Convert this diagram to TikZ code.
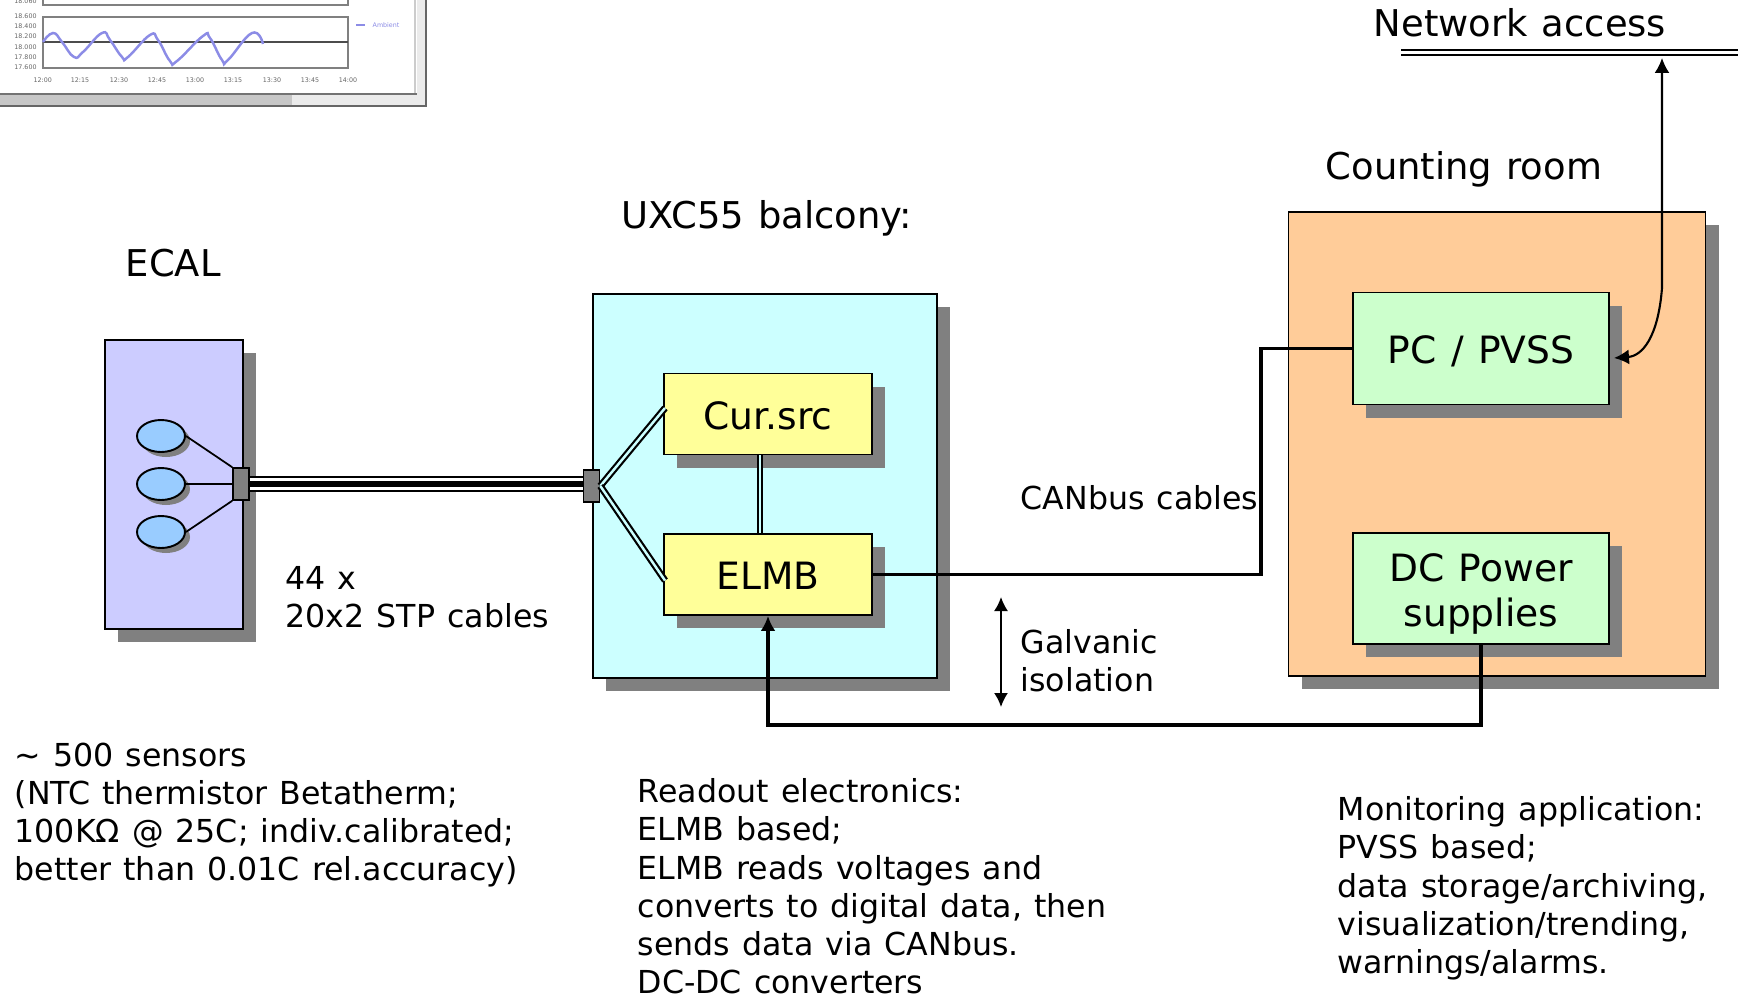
\documentclass[tikz,border=0pt]{standalone}
\usepackage{fontspec}
\setmainfont[WordSpace=1.2]{DejaVu Sans}
\usetikzlibrary{calc, shapes.geometric, shadows, arrows.meta}

\definecolor{ecalblue}{RGB}{204,204,255}
\definecolor{sensorblue}{RGB}{153,204,255}
\definecolor{balconycyan}{RGB}{204,255,255}
\definecolor{roomorange}{RGB}{255,204,153}
\definecolor{boxyellow}{RGB}{255,255,153}
\definecolor{boxgreen}{RGB}{204,255,204}
\definecolor{shadowgray}{RGB}{128,128,128}
\definecolor{tracepurple}{RGB}{140,140,230}

\begin{document}
\begin{tikzpicture}

    \tikzstyle{block}=[rectangle, draw=black, line width=0.55pt, inner sep=0pt, align=center, font=\fontsize{10.7}{13}\selectfont, drop shadow={shadow xshift=0.13cm, shadow yshift=-0.13cm, fill=shadowgray, opacity=1}];
    \tikzstyle{oneline}=[text height=8.8pt, text depth=0pt];
    \tikzstyle{sensor}=[ellipse, draw=black, line width=0.55pt, fill=sensorblue, minimum width=0.48cm, minimum height=0.32cm, inner sep=0pt, drop shadow={shadow xshift=0.05cm, shadow yshift=-0.05cm, fill=shadowgray, opacity=1}];
    \tikzstyle{joint}=[rectangle, draw=black, line width=0.45pt, fill=shadowgray, minimum width=0.16cm, minimum height=0.32cm, inner sep=0pt];
    \tikzstyle{heading}=[anchor=base west, inner sep=0pt, font=\fontsize{10.5}{13}\selectfont];
    \tikzstyle{remark}=[anchor=north west, inner sep=0pt, align=left, font=\fontsize{9}{10.85}\selectfont];
    \tikzstyle{bus}=[line width=1pt];
    \tikzstyle{pair}=[line width=0.62pt, double=balconycyan, double distance=0.7pt];
    \tikzstyle{tick}=[font=\fontsize{1.8}{2}\selectfont, text=black!60, inner sep=0pt];

    \useasboundingbox (0, 0) rectangle (17.38, 9.98);

    % monitoring window, cut by the page
    \fill[white] (0, 8.92) rectangle (4.26, 9.98);
    \fill[black!22] (0, 8.92) rectangle (2.92, 9.04);
    \fill[black!8] (2.92, 8.92) rectangle (4.17, 9.04);
    \fill[black!8] (4.17, 8.92) rectangle (4.26, 9.98);
    \draw[black!20, line width=0.4pt] (4.15, 9.04) -- (4.15, 9.98);
    \draw[black!55, line width=0.5pt] (0, 9.04) -- (4.17, 9.04);
    \draw[black!60, line width=0.5pt] (0, 8.92) -- (4.26, 8.92) -- (4.26, 9.98);
    \draw[black!50, line width=0.3pt] (0.43, 9.98) -- (0.43, 9.93) -- (3.48, 9.93) -- (3.48, 9.98);
    \draw[black!50, line width=0.3pt] (0.43, 9.30) rectangle (3.48, 9.81);
    \draw[black!70, line width=0.3pt] (0.43, 9.56) -- (3.48, 9.56);
    \draw[tracepurple, line width=0.7pt] plot[smooth, tension=0.8] coordinates {(0.43,9.56) (0.53,9.65) (0.62,9.56) (0.74,9.41) (0.83,9.46) (1.02,9.65) (1.10,9.58) (1.22,9.41) (1.28,9.41) (1.50,9.63) (1.58,9.58) (1.70,9.37) (1.77,9.37) (2.03,9.62) (2.10,9.60) (2.22,9.38) (2.28,9.38) (2.52,9.65) (2.63,9.54)};
    \draw[tracepurple, line width=0.4pt] (3.56, 9.73) -- (3.65, 9.73);
    \node[tick, anchor=west, text=tracepurple] (ambient) at (3.72, 9.73) {Ambient};
    \node[tick] (y1) at (0.255, 9.817) {18.600};
    \node[tick] (y2) at (0.255, 9.713) {18.400};
    \node[tick] (y3) at (0.255, 9.613) {18.200};
    \node[tick] (y4) at (0.255, 9.513) {18.000};
    \node[tick] (y5) at (0.255, 9.41) {17.800};
    \node[tick] (y6) at (0.255, 9.307) {17.600};
    \node[tick] (y7) at (0.255, 9.97) {18.060};
    \foreach \x/\t in {0.427/12:00, 0.80/12:15, 1.19/12:30, 1.57/12:45, 1.95/13:00, 2.33/13:15, 2.72/13:30, 3.10/13:45, 3.48/14:00}
        \node[tick] at (\x, 9.18) {\t};

    % three main boxes
    \node[block, fill=ecalblue, minimum width=1.38cm, minimum height=2.89cm] (ecal) at (1.74, 5.135) {};
    \node[block, fill=balconycyan, minimum width=3.44cm, minimum height=3.84cm] (balcony) at (7.65, 5.116) {};
    \node[block, fill=roomorange, minimum width=4.17cm, minimum height=4.64cm] (room) at (14.97, 5.54) {};

    % inner boxes
    \node[block, oneline, fill=boxyellow, minimum width=2.08cm, minimum height=0.81cm] (cursrc) at (7.68, 5.84) {Cur.src};
    \node[block, oneline, fill=boxyellow, minimum width=2.08cm, minimum height=0.81cm] (elmb) at (7.68, 4.235) {ELMB};
    \node[block, oneline, fill=boxgreen, minimum width=2.56cm, minimum height=1.12cm] (pc) at (14.81, 6.495) {PC / PVSS};
    \node[block, text height=24pt, fill=boxgreen, minimum width=2.56cm, minimum height=1.11cm] (power) at (14.81, 4.095) {DC Power\\supplies};

    % sensors and connectors
    \node[sensor] (s1) at (1.61, 5.62) {};
    \node[sensor] (s2) at (1.61, 5.14) {};
    \node[sensor] (s3) at (1.61, 4.66) {};
    \node[joint] (conn1) at (2.41, 5.14) {};
    \node[joint] (conn2) at (5.915, 5.12) {};

    \coordinate (netleft) at (14.01, 9.455);
    \coordinate (netright) at (17.38, 9.455);
    \coordinate (nettip) at (16.62, 9.40);
    \coordinate (galvtop) at (10.01, 4.01);
    \coordinate (galvbottom) at (10.01, 2.91);

    \draw[line width=0.5pt] (s1.east) -- (conn1.north west);
    \draw[line width=0.5pt] (s2.east) -- (conn1.west);
    \draw[line width=0.5pt] (s3.east) -- (conn1.south west);

    \draw[line width=0.65pt, double=white, double distance=3.16pt] (conn1.east) -- (conn1.east -| conn2.west);
    \draw[line width=1.6pt] (conn1.east) -- (conn1.east -| conn2.west);

    \draw[pair] (conn2.east) -- ($(cursrc.west)+(0.02,0.06)$);
    \draw[pair] (conn2.east) -- ($(elmb.west)+(0.02,-0.06)$);
    \draw[pair] ($(cursrc.south)+(-0.08,0)$) -- ($(elmb.north)+(-0.08,0)$);

    \draw[bus] (elmb.east) -- (12.61, 4.235) |- (pc.west);
    \draw[bus, -{Latex[length=0.15cm, width=0.15cm]}] (power.south) -- (14.81, 2.73) -| (elmb.south);

    \draw[line width=0.5pt, {Latex[length=0.14cm, width=0.14cm]}-{Latex[length=0.14cm, width=0.14cm]}] (galvtop) -- (galvbottom);
    \draw[line width=0.6pt, {Latex[length=0.15cm, width=0.15cm]}-{Latex[length=0.15cm, width=0.15cm]}] (nettip) -- (16.62, 7.1) .. controls (16.58, 6.6) and (16.42, 6.42) .. ($(pc.east)+(0.04,-0.095)$);

    \draw[line width=0.55pt, double=white, double distance=0.75pt] (netleft) -- (netright);

    % labels
    \node[heading] (netlabel) at (13.73, 9.61) {Network access};
    \node[heading] (roomlabel) at (13.25, 8.18) {Counting room};
    \node[heading] (balconylabel) at (6.21, 7.70) {UXC55 balcony:};
    \node[heading] (ecallabel) at (1.25, 7.22) {ECAL};

    \node[remark] (cables) at (2.85, 4.32) {44 x\\20x2 STP cables};
    \node[remark] (canbus) at (10.2, 5.13) {CANbus cables};
    \node[remark] (galvanic) at (10.2, 3.69) {Galvanic\\isolation};
    \node[remark] (sensors) at (0.14, 2.56) {\textasciitilde{} 500 sensors\\(NTC thermistor Betatherm;\\100KΩ @ 25C; indiv.calibrated;\\better than 0.01C rel.accuracy)};
    \node[remark] (readout) at (6.37, 2.20) {Readout electronics:\\ELMB based;\\ELMB reads voltages and\\converts to digital data, then\\sends data via CANbus.\\DC-DC converters};
    \node[remark] (monitor) at (13.37, 2.02) {Monitoring application:\\PVSS based;\\data storage/archiving,\\visualization/trending,\\warnings/alarms.};

\end{tikzpicture}
\end{document}
